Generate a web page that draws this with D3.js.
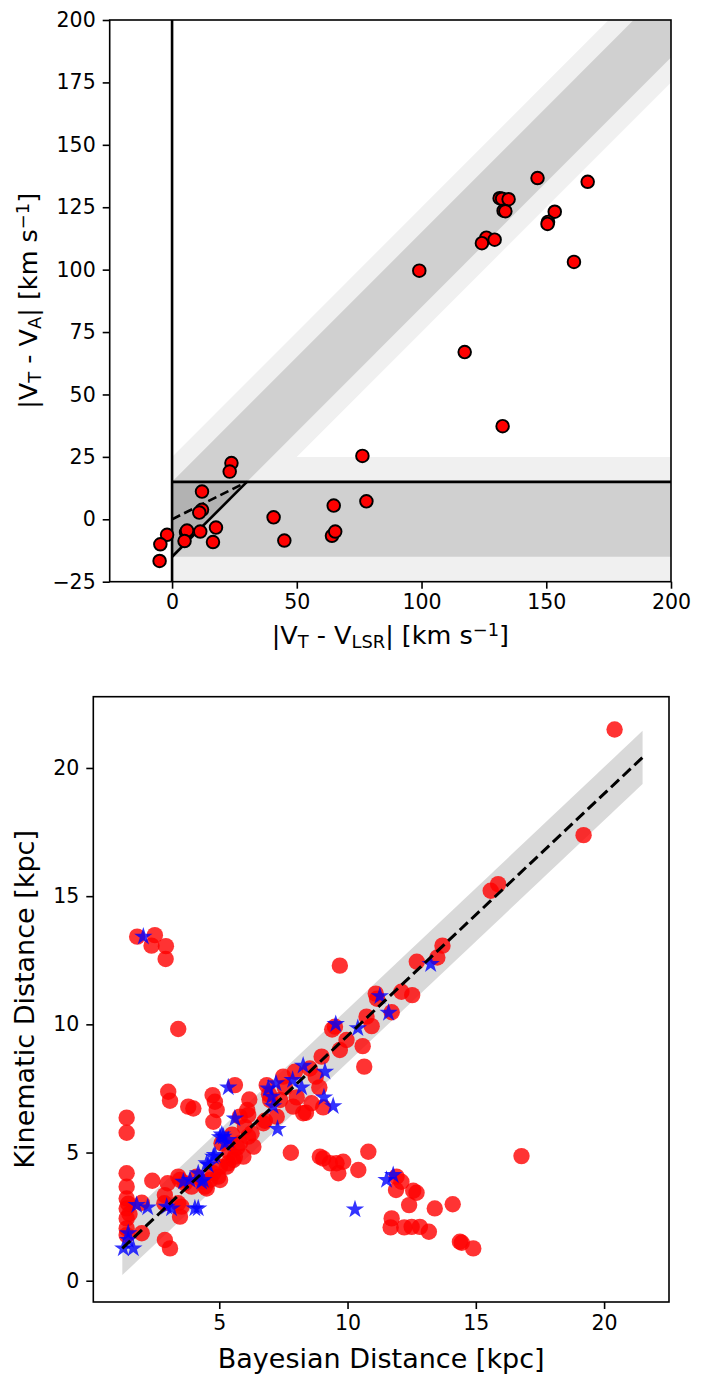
<!DOCTYPE html>
<html><head><meta charset="utf-8">
<script src="https://cdn.jsdelivr.net/npm/d3@7"></script>
<style>body{margin:0;background:#fff} text{font-family:"DejaVu Sans",sans-serif;fill:#000}</style>
</head><body><svg id="c" width="706" height="1376"></svg>
<script>
// ---------- DATA ----------
// Top panel: |V_T - V_LSR| (x) and |V_T - V_A| (y), km/s
const topPoints = [
  [99.1,99.6],[146.5,136.7],[166.6,135.2],[131.3,128.6],[132.3,128.4],[134.9,128.2],
  [132.9,123.6],[133.6,123.4],[153.4,123.2],[150.7,119.1],[150.5,118.3],[126,112.8],
  [124.2,110.6],[129.3,112],[161.1,103.1],[117.3,67],[132.5,37.3],[76.3,25.4],[77.9,7.2],
  [23.8,22.5],[23.1,19.1],[12,11.1],[12,3.8],[10.9,2.7],[5.6,-5.2],[6,-4.5],[11.3,-4.9],
  [5,-8.7],[17.6,-3.3],[16.4,-9.1],[-2,-6.2],[-4.7,-10],[-5,-16.7],[40.7,0.8],[45,-8.5],
  [64.8,5.5],[64.1,-6.6],[65.4,-4.9]
];
const topXDomain = [-25, 200];
const topYDomain = [-25, 200];
const topXTicks = [0, 50, 100, 150, 200];
const topYTicks = [-25, 0, 25, 50, 75, 100, 125, 150, 175, 200];
const tolInner = 15, tolOuter = 25;      // km/s tolerance bands
const bandRange = [0, 200];               // x extent of bands

// Bottom panel: Bayesian distance (x) vs kinematic distance (y), kpc
const redPoints = [
  [1.8,13.42],[2.49,13.48],[2.36,13.07],[2.92,13.05],[2.91,12.55],
  [9.7,12.29],[3.4,9.82],[20.41,21.5],[19.2,17.38],[16.78,4.86],
  [15.87,15.47],[15.58,15.21],[13.7,13.07],[13.5,12.61],[12.7,12.44],[12.1,11.27],[12.52,11.14],
  [11.1,11.2],[11.15,11.0],[11.72,10.47],[10.74,10.3],[10.94,9.93],[9.51,9.91],[9.4,9.8],
  [10.59,9.15],[9.7,9.0],[9.96,9.39],[10.65,8.35],[8.99,8.74],[8.53,8.28],[8.76,7.96],
  [7.95,8.15],[7.49,7.96],[7.56,7.54],[8.9,7.54],[6.85,7.63],[6.94,7.27],[7.88,6.79],
  [8.38,6.55],[8.6,6.92],[9.05,6.76],[8.02,7.15],[7.24,6.4],[6.78,6.24],[6.17,7.07],
  [6.09,6.66],[6.13,6.46],[6.26,5.75],[5.61,7.63],[6.98,7.05],[7.37,7.05],[6.72,6.14],[8.27,6.53],
  [4.74,7.24],[4.83,6.98],[4.9,6.66],[4.77,6.2],[3.79,6.79],[3.99,6.72],[3.01,7.37],[3.08,7.02],
  [5.81,5.36],[5.94,4.84],[6.13,5.62],[6.33,5.23],[5.55,4.71],[5.29,4.45],[5.03,3.93],[4.77,4.19],
  [4.51,3.6],[4.38,3.86],[4.12,4.06],[3.92,3.67],[5.09,5.36],[5.35,4.58],[5.61,4.84],[4.96,4.06],
  [5.03,4.45],[4.64,3.93],[4.44,3.67],[5.4,5.0],[5.7,5.2],[5.5,5.7],[6.0,6.0],[5.8,6.4],
  [1.39,6.36],[1.39,5.77],[1.39,4.19],[1.39,3.67],[1.39,3.21],[1.39,2.82],[1.39,2.43],[1.39,2.04],
  [1.39,1.78],[2.39,3.9],[1.98,1.85],[2.88,1.59],[3.08,1.26],[2.99,3.8],[2.88,3.34],[2.86,3.02],
  [3.47,3.93],[3.47,2.5],[3.4,3.02],[1.98,3.04],[3.4,4.06],[3.66,3.8],[3.53,2.89],[1.45,3.0],[1.5,2.6],
  [7.79,4.99],[8.92,4.84],[9.05,4.77],[9.31,4.58],[9.57,4.58],[9.64,4.19],[9.83,4.64],[10.42,4.32],
  [10.81,5.03],[11.91,4.06],[12.1,3.86],[11.89,3.54],[12.56,3.51],[12.69,3.43],[12.4,2.95],
  [13.4,2.82],[14.1,2.98],[11.72,2.43],[11.68,2.08],[12.21,2.08],[12.5,2.1],[12.82,2.1],
  [13.17,1.91],[14.38,1.52],[14.45,1.48],[14.9,1.26]
];
const starPoints = [
  [2.04,13.42],[5.16,5.62],[5.35,5.49],[5.22,5.36],[5.03,5.6],[5.1,5.7],[4.83,4.9],[4.77,4.84],
  [4.51,4.58],[4.57,4.51],[4.18,4.19],[3.6,3.86],[3.86,3.93],[4.31,3.86],[4.38,3.93],[1.78,2.95],
  [2.21,2.86],[2.95,2.89],[3.14,2.82],[4.05,2.82],[4.18,2.82],[1.45,1.85],[1.45,1.59],[1.26,1.26],
  [1.65,1.26],[5.35,7.54],[5.61,6.33],[7.27,5.92],[6.91,7.5],[7.04,7.18],[7.1,6.81],[7.21,7.7],
  [7.86,7.83],[8.27,8.39],[8.21,7.54],[9.12,8.15],[9.44,6.81],[9.08,7.15],[9.54,10.01],[10.4,9.85],
  [11.26,11.1],[11.6,10.45],[13.24,12.35],[11.52,3.93],[11.78,4.12],[10.29,2.78]
];
const fitLine = [[1.22,1.26],[21.5,20.41]];   // dashed fit endpoints
const fitHalfWidth = 1.04;                      // kpc, shaded band
const botXDomain = [0.09, 22.53];
const botYDomain = [-0.83, 22.78];
const botXTicks = [5, 10, 15, 20];
const botYTicks = [0, 5, 10, 15, 20];

// ---------- DRAW ----------
const svg = d3.select("#c");
const TICK = 20.5;

function frame(g, box) {
  g.append("rect").attr("x", box.l).attr("y", box.t)
    .attr("width", box.r - box.l).attr("height", box.b - box.t)
    .attr("fill", "none").attr("stroke", "#000").attr("stroke-width", 1.6);
}
function axes(g, x, y, box, xt, yt) {
  const ax = g.append("g").attr("transform", `translate(0,${box.b})`)
    .call(d3.axisBottom(x).tickValues(xt).tickSize(7).tickPadding(6));
  const ay = g.append("g").attr("transform", `translate(${box.l},0)`)
    .call(d3.axisLeft(y).tickValues(yt).tickSize(7).tickPadding(7));
  [ax, ay].forEach(a => {
    a.select(".domain").remove();
    a.selectAll("line").attr("stroke", "#000").attr("stroke-width", 1.6);
    a.selectAll("text").attr("font-size", TICK).attr("font-family", "DejaVu Sans").attr("fill", "#000");
  });
}
function richLabel(g, parts, x, y, rot, size) {
  const t = g.append("text").attr("font-size", size).attr("text-anchor", "middle")
    .attr("transform", `translate(${x},${y})` + (rot ? " rotate(-90)" : ""));
  parts.forEach(p => {
    const s = t.append("tspan").text(p.t);
    if (p.sub) s.attr("font-size", size * 0.7).attr("baseline-shift", "-22%");
    if (p.sup) s.attr("font-size", size * 0.7).attr("baseline-shift", "45%");
  });
  return t;
}

// ===== Top panel =====
const T = {l: 109.7, r: 671, t: 20, b: 581.7};
const xT = d3.scaleLinear().domain(topXDomain).range([T.l, T.r]);
const yT = d3.scaleLinear().domain(topYDomain).range([T.b, T.t]);
const gT = svg.append("g");
svg.append("clipPath").attr("id", "clipT").append("rect")
  .attr("x", T.l).attr("y", T.t).attr("width", T.r - T.l).attr("height", T.b - T.t);
const bandsT = gT.append("g").attr("clip-path", "url(#clipT)");
const poly = pts => pts.map(p => [xT(p[0]), yT(p[1])].join(",")).join(" ");
const [b0, b1] = bandRange;
function hBand(tol, col) {
  bandsT.append("polygon").attr("points", poly([[b0,-tol],[b1,-tol],[b1,tol],[b0,tol]])).attr("fill", col);
}
function dBand(tol, col) {
  bandsT.append("polygon").attr("points", poly([[b0,b0-tol],[b1,b1-tol],[b1,b1+tol],[b0,b0+tol]])).attr("fill", col);
}
hBand(tolOuter, "#f0f0f0"); dBand(tolOuter, "#f0f0f0");
hBand(tolInner, "#d0d0d0"); dBand(tolInner, "#d0d0d0");
bandsT.append("polygon").attr("points", poly([[0,-tolInner],[0,tolInner],[2*tolInner,tolInner]])).attr("fill", "#b2b2b2");

const line = d3.line().x(d => xT(d[0])).y(d => yT(d[1]));
const lw = 2.6;
bandsT.append("path").attr("d", line([[0, topYDomain[0]],[0, topYDomain[1]]])).attr("stroke", "#000").attr("stroke-width", lw).attr("fill", "none");
bandsT.append("path").attr("d", line([[0, tolInner],[b1, tolInner]])).attr("stroke", "#000").attr("stroke-width", lw).attr("fill", "none");
bandsT.append("path").attr("d", line([[0, -tolInner],[2*tolInner, tolInner]])).attr("stroke", "#000").attr("stroke-width", lw).attr("fill", "none");
bandsT.append("path").attr("d", line([[0, 0],[2*tolInner, tolInner]])).attr("stroke", "#000").attr("stroke-width", lw).attr("fill", "none").attr("stroke-dasharray", "9,4.5");

gT.append("g").selectAll("circle").data(topPoints).join("circle")
  .attr("cx", d => xT(d[0])).attr("cy", d => yT(d[1])).attr("r", 6.3)
  .attr("fill", "#ff0000").attr("stroke", "#000").attr("stroke-width", 1.9);

frame(gT, T);
axes(gT, xT, yT, T, topXTicks, topYTicks);
richLabel(gT, [{t:"|V"},{t:"T",sub:1},{t:" - V"},{t:"LSR",sub:1},{t:"| [km s"},{t:"\u22121",sup:1},{t:"]"}], (T.l+T.r)/2, 644, false, 25.5);
richLabel(gT, [{t:"|V"},{t:"T",sub:1},{t:" - V"},{t:"A",sub:1},{t:"| [km s"},{t:"\u22121",sup:1},{t:"]"}], 37, (T.t+T.b)/2, true, 25.5);

// ===== Bottom panel =====
const B = {l: 93.3, r: 669, t: 696.7, b: 1302};
const xB = d3.scaleLinear().domain(botXDomain).range([B.l, B.r]);
const yB = d3.scaleLinear().domain(botYDomain).range([B.b, B.t]);
const gB = svg.append("g");
svg.append("clipPath").attr("id", "clipB").append("rect")
  .attr("x", B.l).attr("y", B.t).attr("width", B.r - B.l).attr("height", B.b - B.t);
const inner = gB.append("g").attr("clip-path", "url(#clipB)");
const area = d3.area().x(d => xB(d[0])).y0(d => yB(d[1] - fitHalfWidth)).y1(d => yB(d[1] + fitHalfWidth));
inner.append("path").attr("d", area(fitLine)).attr("fill", "#d9d9d9");
inner.append("g").selectAll("circle").data(redPoints).join("circle")
  .attr("cx", d => xB(d[0])).attr("cy", d => yB(d[1])).attr("r", 8.2)
  .attr("fill", "#ff0000").attr("fill-opacity", 0.8);
const star = d3.symbol().type(d3.symbolStar).size(105);
inner.append("g").selectAll("path").data(starPoints).join("path")
  .attr("transform", d => `translate(${xB(d[0])},${yB(d[1])})`).attr("d", star)
  .attr("fill", "#0000ff").attr("fill-opacity", 0.8);
const lineB = d3.line().x(d => xB(d[0])).y(d => yB(d[1]));
inner.append("path").attr("d", lineB(fitLine)).attr("stroke", "#000").attr("stroke-width", 3)
  .attr("fill", "none").attr("stroke-dasharray", "11,5");
frame(gB, B);
axes(gB, xB, yB, B, botXTicks, botYTicks);
richLabel(gB, [{t:"Bayesian Distance [kpc]"}], (B.l+B.r)/2, 1368, false, 27);
richLabel(gB, [{t:"Kinematic Distance [kpc]"}], 34, (B.t+B.b)/2, true, 27);
</script></body></html>
